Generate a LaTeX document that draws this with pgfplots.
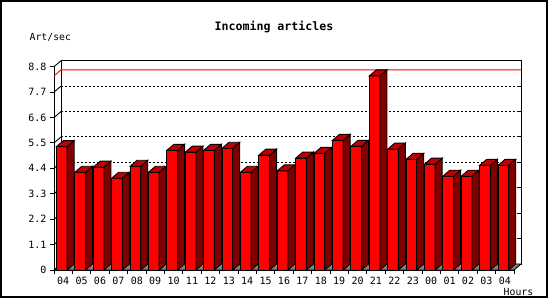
\documentclass[border=0pt]{standalone}
\usepackage{fontspec}
\setmainfont{DejaVu Sans Mono}
\usepackage{pgfplots}
\pgfplotsset{compat=1.18}
\usepackage{pgfplotstable}
\definecolor{frontred}{RGB}{255,0,0}
\definecolor{topred}{RGB}{192,0,0}
\definecolor{sidered}{RGB}{128,0,0}
\definecolor{floorgray}{RGB}{128,128,128}

\pgfplotstableread{
x v
0.5 5.34
1.5 4.23
2.5 4.45
3.5 3.97
4.5 4.49
5.5 4.23
6.5 5.18
7.5 5.10
8.5 5.18
9.5 5.27
10.5 4.23
11.5 4.97
12.5 4.29
13.5 4.84
14.5 5.05
15.5 5.61
16.5 5.35
17.5 8.40
18.5 5.23
19.5 4.79
20.5 4.58
21.5 4.06
22.5 4.06
23.5 4.53
24.5 4.53
}\artdata

\pgfdeclareplotmark{bar3d}{%
  \pgfmathsetmacro\hh{\barval*23.102}%
  \pgfsetlinewidth{0.9pt}%
  \pgfsetstrokecolor{black}%
  \pgfsetfillcolor{sidered}%
  \pgfpathmoveto{\pgfqpoint{3.95pt}{0pt}}%
  \pgfpathlineto{\pgfqpoint{10.95pt}{6pt}}%
  \pgfpathlineto{\pgfpoint{10.95pt}{6pt-\hh pt}}%
  \pgfpathlineto{\pgfpoint{3.95pt}{-\hh pt}}%
  \pgfpathclose
  \pgfusepath{fill,stroke}%
  \pgfsetfillcolor{topred}%
  \pgfpathmoveto{\pgfqpoint{-6.75pt}{0pt}}%
  \pgfpathlineto{\pgfqpoint{3.95pt}{0pt}}%
  \pgfpathlineto{\pgfqpoint{10.95pt}{6pt}}%
  \pgfpathlineto{\pgfqpoint{0.25pt}{6pt}}%
  \pgfpathclose
  \pgfusepath{fill,stroke}%
}

\begin{document}
\begin{tikzpicture}
\fill[white] (0,0) rectangle (550pt,300pt);
\node[font=\bfseries\fontsize{11.6}{14}\selectfont] at (274pt,273pt) {Incoming articles};
\node[anchor=west, inner sep=0pt, font=\fontsize{9.8}{12}\selectfont] at (29.5pt,263pt) {Art/sec};
\node[anchor=west, inner sep=0pt, font=\fontsize{9.8}{12}\selectfont] at (503.5pt,8pt) {Hours};
\begin{axis}[
  at={(54pt,30pt)}, anchor=origin,
  scale only axis, width=460pt, height=203.3pt,
  xmin=0, xmax=25, ymin=0, ymax=8.8,
  clip=false,
  axis x line*=bottom, axis y line*=left,
  axis line style={-, black, line width=0.9pt},
  xtick=data,
  xticklabels={04,05,06,07,08,09,10,11,12,13,14,15,16,17,18,19,20,21,22,23,00,01,02,03,04},
  minor xtick={0,1,...,25},
  major x tick style={draw=none},
  minor x tick style={black, line width=0.9pt},
  ytick={0,1.1,2.2,3.3,4.4,5.5,6.6,7.7,8.8},
  yticklabels={0,1.1,2.2,3.3,4.4,5.5,6.6,7.7,8.8},
  major y tick style={black, line width=0.9pt},
  tick align=outside,
  major tick length=4pt, minor tick length=4pt,
  tick label style={font=\fontsize{10}{12}\selectfont},
  /pgf/number format/assume math mode=true,
]
\draw[fill=white, line width=0.9pt] ([shift={(7pt,6pt)}]axis cs:0,0) rectangle ([shift={(7pt,6pt)}]axis cs:25,8.8);
\draw[line width=0.9pt] (axis cs:0,8.8) -- ++(7pt,6pt);
\pgfplotsinvokeforeach{1.1,2.2,3.3,4.4,5.5,6.6,7.7}{
  \draw[line width=0.9pt] (axis cs:0,#1) -- ++(7pt,6pt);
  \draw[line width=0.9pt, dash pattern=on 2pt off 2pt] ([shift={(7pt,6pt)}]axis cs:0,#1) -- ([shift={(7pt,6pt)}]axis cs:25,#1);
  \draw[line width=0.9pt] ([shift={(7pt,6pt)}]axis cs:25,#1) -- ++(-3pt,0pt);
}
\draw[red, line width=0.9pt] (axis cs:0,8.40) -- ++(7pt,6pt) -- ([shift={(7pt,6pt)}]axis cs:25,8.40);
\draw[fill=floorgray, line width=0.9pt] (axis cs:0,0) -- (axis cs:25,0) -- ([shift={(7pt,6pt)}]axis cs:25,0) -- ([shift={(7pt,6pt)}]axis cs:0,0) -- cycle;
\addplot[ybar, bar width=10.7pt, bar shift=-1.4pt, fill=frontred, draw=black, line width=0.9pt] table[x=x, y=v] {\artdata};
\addplot[scatter, only marks, mark=bar3d,
  scatter/@pre marker code/.code={}, scatter/@post marker code/.code={},
  visualization depends on={rawy \as \barval}] table[x=x, y=v] {\artdata};
\end{axis}
\draw[line width=2pt] (1pt,3pt) rectangle (547pt,299pt);
\end{tikzpicture}
\end{document}
